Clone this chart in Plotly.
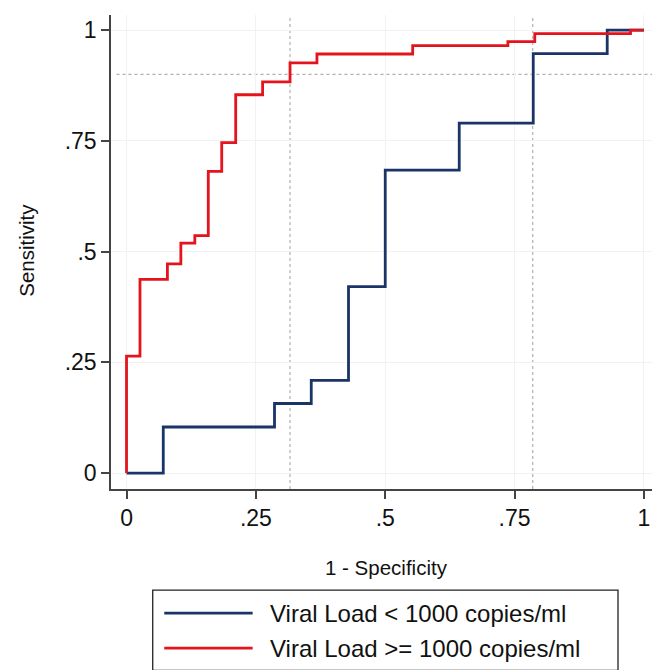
import plotly.graph_objects as go

# ROC curve steps (1 - specificity, sensitivity)
low_fpr = [0, 0.071, 0.286, 0.357, 0.429, 0.5, 0.643, 0.786, 0.929, 1.0]
low_sens = [0, 0.104, 0.157, 0.209, 0.421, 0.684, 0.790, 0.947, 1.0, 1.0]

high_fpr = [0, 0, 0.026, 0.079, 0.105, 0.132, 0.158, 0.184, 0.211,
            0.263, 0.316, 0.368, 0.553, 0.737, 0.789, 0.974, 1.0]
high_sens = [0, 0.264, 0.437, 0.472, 0.519, 0.536, 0.681, 0.746, 0.854,
             0.883, 0.926, 0.946, 0.965, 0.974, 0.992, 1.0, 1.0]

series_names = ["Viral Load < 1000 copies/ml", "Viral Load >= 1000 copies/ml"]
series_colors = ["#1a3468", "#e3141c"]

ref_sens = 0.9
ref_fpr = [0.316, 0.785]

tick_vals = [0, 0.25, 0.5, 0.75, 1]
tick_text = ["0", ".25", ".5", ".75", "1"]

FONT = "Liberation Sans, Arial, sans-serif"

fig = go.Figure()

for fpr, sens, name, color in zip(
    [low_fpr, high_fpr], [low_sens, high_sens], series_names, series_colors
):
    fig.add_trace(
        go.Scatter(
            x=fpr,
            y=sens,
            mode="lines",
            line=dict(color=color, width=2.8, shape="hv"),
            name=name,
            showlegend=False,
        )
    )

# dotted reference lines
for v in ref_fpr:
    fig.add_shape(type="line", xref="x", yref="paper", x0=v, x1=v, y0=0, y1=1,
                  line=dict(color="#b0b0b0", width=1.2, dash="dot"), layer="below")
fig.add_shape(type="line", xref="paper", yref="y", x0=0.01, x1=0.99,
              y0=ref_sens, y1=ref_sens,
              line=dict(color="#b0b0b0", width=1.2, dash="dot"), layer="below")

# legend box drawn below the plot, Stata style
fig.add_shape(type="rect", xref="paper", yref="paper",
              x0=0.076, x1=0.9235, y0=-0.3825, y1=-0.2133,
              line=dict(color="#222", width=1.3), fillcolor="white")
for i, (name, color) in enumerate(zip(series_names, series_colors)):
    yy = -0.2617 - i * 0.0738
    fig.add_shape(type="line", xref="paper", yref="paper",
                  x0=0.097, x1=0.258, y0=yy, y1=yy,
                  line=dict(color=color, width=2.8))
    fig.add_annotation(x=0.286, y=yy, xref="paper", yref="paper",
                       text=name, showarrow=False, xanchor="left",
                       yanchor="middle", font=dict(size=24, color="#111"))

# axis titles
fig.add_annotation(x=0.501, y=-0.1654, xref="paper", yref="paper",
                   text="1 - Specificity", showarrow=False,
                   xanchor="center", yanchor="middle",
                   font=dict(size=20.5, color="#111"))
fig.add_annotation(x=-0.153, y=0.5026, xref="paper", yref="paper",
                   text="Sensitivity", showarrow=False, textangle=-90,
                   xanchor="center", yanchor="middle",
                   font=dict(size=20.5, color="#111"))

axis_style = dict(
    tickvals=tick_vals,
    ticktext=tick_text,
    showline=True,
    linecolor="#444",
    linewidth=1.5,
    ticks="outside",
    ticklen=8,
    tickwidth=1.5,
    tickcolor="#444",
    showgrid=True,
    gridcolor="#f2f2f2",
    gridwidth=1,
    zeroline=False,
    tickfont=dict(size=23, color="#111"),
)

fig.update_layout(
    width=660,
    height=670,
    margin=dict(l=103, r=8, t=7, b=189),
    paper_bgcolor="white",
    plot_bgcolor="white",
    font=dict(family=FONT, color="#111"),
    xaxis=dict(range=[-0.030, 1.031], **axis_style),
    yaxis=dict(range=[-0.036, 1.034], **axis_style),
)

fig.write_html("out.html")
